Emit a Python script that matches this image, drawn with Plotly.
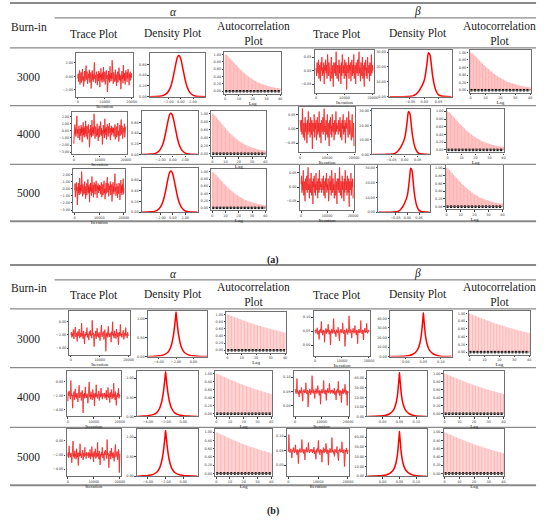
import numpy as np
import plotly.graph_objects as go

# ---------------- DATA ----------------
burn_in_labels = ["3000", "4000", "5000"]
column_headers = ["Trace Plot", "Density Plot", "Autocorrelation<br>Plot"]
param_labels = ["α", "β"]
panel_labels = ["(a)", "(b)"]

iter_ticks = [0, 10000, 20000]
lags = list(range(41))

# panel (a) traces
alpha_a_trace = [
    -0.3, 0.4, -0.8, 0.1, -0.5, 0.9, -1.2, 0.2, -0.1, 0.6, -0.9, 0.3, -0.4, 1.1, -0.6, 0.0, -1.5, 0.5, -0.2, 0.8,
    -0.7, 0.2, -0.3, 1.6, -0.5, -0.1, 0.7, -1.1, 0.3, -0.6, 0.4, -0.2, 1.0, -0.9, 0.1, -0.4, 0.6, -1.8, 0.2, -0.3,
    0.9, -0.5, 0.3, -0.8, 0.5, -0.1, 2.1, -0.4, 0.2, -1.0, 0.4, -0.6, 0.7, -0.2, -1.3, 0.3, 0.1, -0.7, 0.8, -0.3,
    0.5, -1.6, 0.2, -0.1, 1.2, -0.6, 0.4, -0.9, 0.0, 0.6, -0.4, 1.4, -0.8, 0.1, -0.2, 0.7, -1.2, 0.3, -0.5, 0.9,
    -0.3, 0.2, -2.3, 0.4, -0.1, 0.8, -0.6, 0.3, -0.9, 1.5, -0.2, 0.1, -0.7, 0.5, -0.4, 2.4, -0.5, 0.2, -1.1, 0.6,
    -0.3, 0.4, -0.8, 0.0, 1.0, -0.6, 0.3, -1.4, 0.5, -0.2, 0.7, -0.9, 0.2, -0.1, 1.3, -0.5, 0.4, -0.7, 0.1, -1.9,
    0.6, -0.3, 0.8, -0.4, 0.2, -1.0, 1.7, -0.2, 0.3, -0.6, 0.5, -1.2, 0.1, 0.9, -0.4, 0.2, -0.8, 0.6, -0.3, 1.1,
    -0.5, 0.3, -1.3, 0.4, -0.1, 0.7, -0.6, 0.2, -0.2, 0.5]
beta_a_trace = [
    0.01, -0.02, 0.03, 0.00, -0.01, 0.04, -0.03, 0.02, 0.01, -0.04, 0.03, 0.00, 0.05, -0.02, 0.01, -0.01, 0.03, -0.05, 0.02, 0.00,
    0.04, -0.01, 0.02, -0.03, 0.06, 0.00, -0.02, 0.03, -0.01, 0.01, -0.04, 0.02, 0.05, -0.03, 0.00, 0.02, -0.06, 0.03, 0.01, -0.01,
    0.03, -0.02, 0.07, 0.00, -0.03, 0.02, 0.01, -0.04, 0.04, -0.01, 0.02, 0.00, -0.05, 0.03, -0.02, 0.06, 0.01, -0.01, 0.02, -0.03,
    0.04, 0.00, -0.02, 0.03, -0.07, 0.02, 0.01, -0.01, 0.05, -0.03, 0.02, 0.00, 0.03, -0.04, 0.01, 0.04, -0.02, 0.02, -0.01, 0.06,
    -0.03, 0.01, 0.02, -0.05, 0.03, 0.00, -0.01, 0.04, -0.02, 0.02, 0.07, -0.01, 0.01, -0.04, 0.03, 0.00, -0.02, 0.05, -0.03, 0.01,
    0.02, -0.06, 0.03, 0.00, 0.04, -0.02, 0.01, -0.03, 0.05, 0.00, -0.01, 0.02, -0.04, 0.03, 0.01, -0.02, 0.06, -0.01, 0.02, 0.00]
# panel (b) traces
alpha_b_trace = [
    -2.0, -1.6, -2.4, -1.8, -2.2, -1.2, -2.6, -1.9, -2.1, -0.8, -2.3, -1.7, -2.0, -3.0, -1.5, -2.2, -1.9, -1.1, -2.5, -2.0,
    -1.7, -2.3, -0.2, -2.1, -1.8, -2.6, -1.4, -2.0, -3.4, -1.9, -2.2, -1.6, -2.0, -0.9, -2.4, -1.8, -2.1, -2.8, -1.5, -2.0,
    -1.3, -2.2, -1.9, -2.5, 0.2, -2.0, -1.7, -2.3, -3.8, -1.9, -2.1, -1.4, -2.6, -2.0, -1.0, -2.2, -1.8, -2.4, -1.6, -2.0,
    -2.9, -1.7, -2.1, -0.5, -2.3, -1.9, -2.0, -1.5, -2.7, -2.1, -1.2, -2.0, -4.5, -1.8, -2.2, -1.6, -2.4, -0.7, -2.0, -1.9,
    -2.3, -1.7, -2.1, -3.1, -1.5, -2.0, 0.0, -2.2, -1.8, -2.5, -1.4, -2.1, -1.9, -2.6, -1.1, -2.0, -2.3, -1.7, -3.5, -2.0,
    -1.6, -2.2, -0.4, -2.1, -1.8, -2.4, -1.9, -2.0, -1.3, -2.7, -2.1, -1.7, -2.2, -0.9, -2.0, -1.9, -2.5, -1.6, -2.1, -2.0]
beta_b_trace = [
    0.048, 0.055, 0.042, 0.051, 0.046, 0.062, 0.038, 0.050, 0.047, 0.020, 0.053, 0.044, 0.058, 0.049, 0.085, 0.043, 0.050, 0.035, 0.054, 0.047,
    0.052, 0.010, 0.049, 0.045, 0.060, 0.041, 0.050, 0.056, 0.046, 0.075, 0.048, 0.039, 0.053, 0.047, 0.000, 0.051, 0.044, 0.058, 0.049, 0.042,
    0.050, 0.095, 0.046, 0.053, 0.040, 0.048, 0.030, 0.055, 0.047, 0.051, 0.043, 0.064, 0.049, 0.045, 0.015, 0.052, 0.048, 0.057, 0.044, 0.050,
    0.046, 0.080, 0.051, 0.041, 0.049, 0.054, -0.005, 0.047, 0.052, 0.045, 0.059, 0.048, 0.038, 0.053, 0.046, 0.105, 0.050, 0.043, 0.048, 0.056,
    0.044, 0.025, 0.051, 0.047, 0.060, 0.049, 0.042, 0.052, 0.070, 0.046, 0.050, 0.036, 0.054, 0.048, 0.005, 0.051, 0.045, 0.057, 0.049, 0.043,
    0.052, 0.088, 0.047, 0.050, 0.040, 0.055, 0.046, 0.018, 0.053, 0.048, 0.061, 0.044, 0.050, 0.047, 0.078, 0.051, 0.042, 0.049, 0.054, 0.048]

# densities
alpha_a_dens_x = [-5, -4, -3.5, -3, -2.5, -2, -1.6, -1.3, -1.0, -0.7, -0.5, -0.3, -0.1, 0.1, 0.4, 0.7, 1.0, 1.4, 1.8, 2.3, 3, 4]
alpha_a_dens_y = [0, 0.002, 0.006, 0.015, 0.04, 0.10, 0.20, 0.33, 0.50, 0.67, 0.75, 0.77, 0.74, 0.66, 0.49, 0.32, 0.19, 0.09, 0.04, 0.012, 0.003, 0]
beta_a_dens_x = [-0.12, -0.06, -0.04, -0.03, -0.02, -0.01, 0.0, 0.005, 0.01, 0.015, 0.02, 0.025, 0.03, 0.04, 0.05, 0.06, 0.08, 0.095]
beta_a_dens_y = [0, 0.1, 0.5, 1.5, 3.5, 6.5, 11.0, 16.0, 23.0, 29.5, 28.0, 21.0, 13.0, 4.5, 1.2, 0.4, 0.05, 0]
alpha_b_dens_x = [-5.2, -4.5, -4.0, -3.5, -3.0, -2.7, -2.5, -2.3, -2.15, -2.05, -2.0, -1.95, -1.85, -1.7, -1.5, -1.3, -1.0, -0.5, 0.0, 0.5, 1.6]
alpha_b_dens_y = [0, 0.01, 0.02, 0.04, 0.10, 0.20, 0.33, 0.56, 0.83, 1.05, 1.17, 1.05, 0.83, 0.56, 0.33, 0.20, 0.10, 0.04, 0.02, 0.01, 0]
beta_b_dens_x = [-0.045, -0.01, 0.0, 0.01, 0.02, 0.03, 0.035, 0.04, 0.044, 0.047, 0.049, 0.05, 0.051, 0.053, 0.056, 0.06, 0.065, 0.07, 0.08, 0.09, 0.1, 0.13]
beta_b_dens_y = [0, 0.3, 0.6, 1.2, 2.5, 5.5, 8.5, 14, 22, 33, 41, 46, 41, 33, 22, 14, 8.5, 5.5, 2.5, 1.2, 0.5, 0]

# autocorrelations (lag 0..40)
acf_a = [1.00, 0.98, 0.95, 0.91, 0.87, 0.83, 0.79, 0.75, 0.71, 0.67, 0.63, 0.59, 0.56, 0.52, 0.49, 0.46, 0.43, 0.40, 0.37, 0.35,
         0.32, 0.30, 0.28, 0.26, 0.24, 0.22, 0.21, 0.19, 0.18, 0.17, 0.155, 0.145, 0.135, 0.125, 0.115, 0.105, 0.10, 0.09, 0.085, 0.08, 0.075]
acf_b = [1.00, 0.985, 0.97, 0.955, 0.94, 0.925, 0.91, 0.895, 0.88, 0.865, 0.85, 0.835, 0.82, 0.805, 0.79, 0.775, 0.762, 0.749, 0.736, 0.723,
         0.71, 0.698, 0.686, 0.674, 0.662, 0.65, 0.638, 0.627, 0.616, 0.605, 0.594, 0.583, 0.572, 0.562, 0.552, 0.542, 0.532, 0.522, 0.512, 0.502, 0.492]
acf_conf = 0.02

# ---------------- LAYOUT ----------------
W, H = 550, 520
SERIF = "'Liberation Serif', 'Times New Roman', Times, serif"
RED = "#ff0000"

def X(p):
    return p / W

def Y(p):
    return 1 - p / H

panels = [
    dict(
        traces=[alpha_a_trace, beta_a_trace],
        dens=[(alpha_a_dens_x, alpha_a_dens_y), (beta_a_dens_x, beta_a_dens_y)],
        acf=acf_a, barw=0.9,
        trace_y=[dict(range=[-3.0, 3.5], tickvals=[-2, 0, 2]), dict(range=[-0.082, 0.077], tickvals=[-0.05, 0, 0.05])],
        dens_x=[dict(range=[-5, 4], tickvals=[-2, 0, 2]), dict(range=[-0.123, 0.096], tickvals=[-0.05, 0, 0.05])],
        dens_y=[dict(range=[0, 0.82], tickvals=[0, 0.2, 0.4, 0.6]), dict(range=[0, 31.5], tickvals=[0, 10, 20, 30])],
        boxes=[
            [(77, 134, 53, 97), (151, 207, 53, 97), (226, 283, 52, 94), (317, 377, 50, 93), (392, 455, 50, 97), (473, 535, 50, 93)],
            [(73, 128, 112, 155), (143, 199, 111, 155), (213, 268, 111, 157), (301, 358, 107, 153), (375, 433, 109, 155), (450, 508, 109, 153)],
            [(74, 126, 170, 213), (143, 199, 169, 213), (213, 268, 170, 211), (302, 357, 166, 211), (381, 433, 166, 213), (449, 507, 166, 210)],
        ],
        top=3, sub=18, head=48, seps=[106, 165], bottom=222,
        param_y=12, head_y=34, burn_y=27, row_y=[77, 135, 194], label_y=261,
    ),
    dict(
        traces=[alpha_b_trace, beta_b_trace],
        dens=[(alpha_b_dens_x, alpha_b_dens_y), (beta_b_dens_x, beta_b_dens_y)],
        acf=acf_b, barw=0.7,
        trace_y=[dict(range=[-5.0, 1.65], tickvals=[-4, -2, 0]), dict(range=[-0.038, 0.123], tickvals=[0, 0.05, 0.1])],
        dens_x=[dict(range=[-5.24, 1.62], tickvals=[-4, -2, 0]), dict(range=[-0.045, 0.131], tickvals=[0, 0.05, 0.1])],
        dens_y=[dict(range=[0, 1.2], tickvals=[0, 0.5, 1.0]), dict(range=[0, 48], tickvals=[0, 10, 20, 30, 40])],
        boxes=[
            [(70, 131, 312, 356), (149, 209, 312, 358), (228, 288, 313, 354), (316, 373, 312, 357), (393, 455, 312, 358), (472, 534, 312, 356)],
            [(67, 122, 372, 418), (138, 199, 372, 418), (217, 274, 372, 418), (296, 352, 372, 418), (370, 430, 372, 418), (447, 508, 372, 418)],
            [(67, 122, 431, 478), (138, 199, 431, 478), (217, 274, 431, 478), (289, 352, 431, 478), (370, 430, 431, 478), (447, 508, 431, 478)],
        ],
        top=266, sub=281, head=310, seps=[369, 429], bottom=487,
        param_y=275, head_y=296, burn_y=289, row_y=[340, 399, 459], label_y=513,
    ),
]

head_x = [[95, 174, 255], [339, 421, 503]]
param_x = [175, 421]

fig = go.Figure()
layout = dict(width=W, height=H, margin=dict(l=0, r=0, t=0, b=0),
              paper_bgcolor="white", plot_bgcolor="white", showlegend=False,
              barmode="overlay")
shapes, annotations = [], []

tickfont = dict(size=3.4, family="DejaVu Sans", color="#333")
titlefont = dict(size=5, family=SERIF, color="#222")
axis_common = dict(showline=True, mirror=True, linecolor="#707070", linewidth=1.2,
                   ticks="outside", ticklen=1.5, tickwidth=0.5, tickcolor="#444",
                   tickfont=tickfont, showgrid=False, zeroline=False, fixedrange=True)

count = [0]

def new_axes(box, xcfg, ycfg):
    count[0] += 1
    k = count[0]
    sfx = "" if k == 1 else str(k)
    x0, x1, y0, y1 = box
    layout["xaxis" + sfx] = dict(domain=[X(x0), X(x1)], anchor="y" + sfx, **axis_common, **xcfg)
    layout["yaxis" + sfx] = dict(domain=[Y(y1), Y(y0)], anchor="x" + sfx, **axis_common, **ycfg)
    return "x" + sfx, "y" + sfx

for pn in panels:
    for r in range(3):
        for pi in range(2):
            boxes = pn["boxes"][r][pi * 3:(pi + 1) * 3]
            # trace plot
            vals = pn["traces"][pi]
            shift = r * 37 % len(vals)
            vals = vals[shift:] + vals[:shift]
            iters = np.linspace(0, 20000, len(vals))
            ycfg = dict(pn["trace_y"][pi])
            if pn is panels[0] and pi == 0 and r > 0:
                ycfg = dict(range=[-3.3, 2.7], tickvals=[-3, -2, -1, 0, 1, 2])
            xa, ya = new_axes(boxes[0],
                              dict(range=[-500, 20500], tickvals=iter_ticks, ticktext=[str(t) for t in iter_ticks],
                                   title=dict(text="Iteration", font=titlefont, standoff=0)),
                              dict(tickformat=".2f", **ycfg))
            fig.add_trace(go.Scatter(x=iters, y=vals, mode="lines", xaxis=xa, yaxis=ya,
                                     line=dict(color="rgba(255,0,0,0.55)", width=1.1), hoverinfo="skip"))
            fig.add_trace(go.Scatter(x=iters, y=vals, mode="lines", xaxis=xa, yaxis=ya,
                                     line=dict(color="rgba(230,0,0,0.9)", width=0.4), hoverinfo="skip"))
            # density plot
            dx, dy = pn["dens"][pi]
            xa, ya = new_axes(boxes[1], dict(tickformat=".2f", **pn["dens_x"][pi]),
                              dict(tickformat=".2f", **pn["dens_y"][pi]))
            fig.add_trace(go.Scatter(x=dx, y=dy, mode="lines", xaxis=xa, yaxis=ya, line_shape="spline",
                                     line=dict(color=RED, width=1.5), hoverinfo="skip"))
            # autocorrelation plot
            xa, ya = new_axes(boxes[2],
                              dict(range=[-0.6, 40.6], tickvals=[0, 10, 20, 30, 40],
                                   title=dict(text="Lag", font=titlefont, standoff=0)),
                              dict(range=[-0.065, 1.07], tickvals=[0, 0.2, 0.4, 0.6, 0.8, 1.0], tickformat=".2f"))
            fig.add_trace(go.Bar(x=lags, y=pn["acf"], width=pn["barw"], xaxis=xa, yaxis=ya,
                                 marker=dict(color="rgba(255,90,90,0.45)", line=dict(width=0)), hoverinfo="skip"))
            fig.add_trace(go.Scatter(x=[lags[0], lags[-1]], y=[0, 0], mode="lines", xaxis=xa, yaxis=ya,
                                     line=dict(color="#555", width=0.8), hoverinfo="skip"))
            for c in (acf_conf, -acf_conf):
                fig.add_trace(go.Scatter(x=[lags[0], lags[-1]], y=[c, c], mode="lines", xaxis=xa, yaxis=ya,
                                         line=dict(color="black", width=1.0, dash="2px,1.5px"), hoverinfo="skip"))

    # table rules
    rules = [(10, pn["top"], 2.0), (55, pn["sub"], 1.2), (10, pn["head"], 1.2)] + \
            [(10, s, 1.2) for s in pn["seps"]] + [(10, pn["bottom"], 2.0)]
    for x0, yv, w in rules:
        shapes.append(dict(type="line", xref="paper", yref="paper", x0=X(x0), x1=X(540), y0=Y(yv), y1=Y(yv),
                           line=dict(color="#8a8a8a", width=w)))
    # headers
    txt = dict(family=SERIF, size=11.5, color="#222")
    annotations.append(dict(text="Burn-in", x=X(29), y=Y(pn["burn_y"]), xref="paper", yref="paper",
                            showarrow=False, font=txt, xanchor="center", yanchor="middle"))
    for pi in range(2):
        annotations.append(dict(text="<i>" + param_labels[pi] + "</i>", x=X(param_x[pi]), y=Y(pn["param_y"]),
                                xref="paper", yref="paper", showarrow=False, font=txt,
                                xanchor="center", yanchor="middle"))
        for ci in range(3):
            annotations.append(dict(text=column_headers[ci], x=X(head_x[pi][ci]), y=Y(pn["head_y"]),
                                    xref="paper", yref="paper", showarrow=False, font=txt,
                                    xanchor="center", yanchor="middle"))
    for r in range(3):
        annotations.append(dict(text=burn_in_labels[r], x=X(29), y=Y(pn["row_y"][r]), xref="paper", yref="paper",
                                showarrow=False, font=txt, xanchor="center", yanchor="middle"))
    lbl = panel_labels[panels.index(pn)]
    annotations.append(dict(text="<b>" + lbl + "</b>", x=X(275), y=Y(pn["label_y"]), xref="paper", yref="paper",
                            showarrow=False, font=dict(family=SERIF, size=10, color="#222"),
                            xanchor="center", yanchor="middle"))

layout["shapes"] = shapes
layout["annotations"] = annotations
fig.update_layout(**layout)
fig.write_html("out.html", config={"displayModeBar": False},
               post_script="document.body.style.margin='0';")
